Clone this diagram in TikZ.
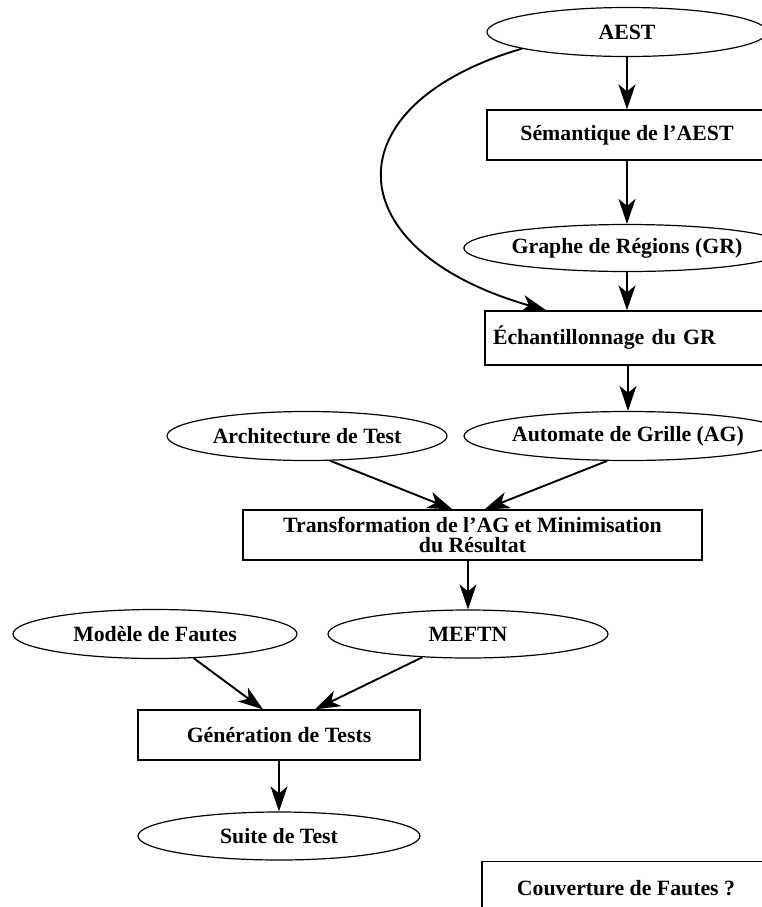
\documentclass[tikz,border=0pt]{standalone}
\usepackage{fontspec}
\setmainfont{Liberation Serif}
\usetikzlibrary{shapes.geometric,arrows.meta}
\begin{document}
\begin{tikzpicture}[x=0.5pt,y=-0.5pt,
  every node/.style={font=\fontsize{10.9}{10}\selectfont\bfseries, inner sep=0pt},
  oval/.style={ellipse, draw, line width=0.6pt, minimum height=24.5pt},
  procbox/.style={rectangle, draw, line width=0.6pt, minimum height=25pt},
  flow/.style={line width=0.95pt, -{Stealth[length=12.5pt,width=8.5pt,inset=3.5pt]}}
]
\useasboundingbox (0,0) rectangle (762,907);

% data and process nodes
\node[oval, minimum width=140pt] (aest) at (627,32) {AEST};
\node[procbox, minimum width=140pt] (sem) at (627,135) {Sémantique de l’AEST};
\node[oval, minimum width=143.5pt, minimum height=23.5pt] (gr) at (627,248) {Graphe de Régions (GR)};
\node[procbox, minimum height=27pt, text width=133pt, inner xsep=4pt, align=left] (ech) at (626,338) {Échantillonnage du GR};
\node[oval, minimum width=143pt] (ag) at (628,436) {Automate de Grille (AG)};
\node[oval, minimum width=140pt] (arch) at (307,436) {Architecture de Test};
\node[procbox, minimum width=229.5pt, align=center] (trans) at (472.5,535) {Transformation de l’AG et Minimisation\\du Résultat};
\node[oval, minimum width=140pt, minimum height=24pt] (meftn) at (468,634) {MEFTN};
\node[oval, minimum width=142pt] (model) at (155,634) {Modèle de Fautes};
\node[procbox, minimum width=141pt] (gen) at (279,735) {Génération de Tests};
\node[oval, minimum width=141pt, minimum height=24pt] (suite) at (279,836) {Suite de Test};
\node[procbox, minimum width=144pt, minimum height=26.5pt] (couv) at (626,888) {Couverture de Fautes ?};

% control points of the bypass curve
\coordinate (bendA) at (330,105);
\coordinate (bendB) at (335,250);

% connectors
\draw[flow] (aest) -- (sem);
\draw[flow] (sem) -- (gr);
\draw[flow] (gr) -- (gr |- ech.north);
\draw[flow] (aest.189) .. controls (bendA) and (bendB) .. ([xshift=31pt]ech.north west);
\draw[flow] (ech.south -| ag) -- (ag);
\draw[flow] (arch.-47) -- ([xshift=-10pt]trans.north);
\draw[flow] (ag.230) -- ([xshift=6pt]trans.north);
\draw[flow] (meftn |- trans.south) -- (meftn);
\draw[flow] (model.-32) -- ([xshift=-8pt]gen.north);
\draw[flow] (meftn.207.5) -- ([xshift=18pt]gen.north);
\draw[flow] (gen) -- (suite);
\end{tikzpicture}
\end{document}
